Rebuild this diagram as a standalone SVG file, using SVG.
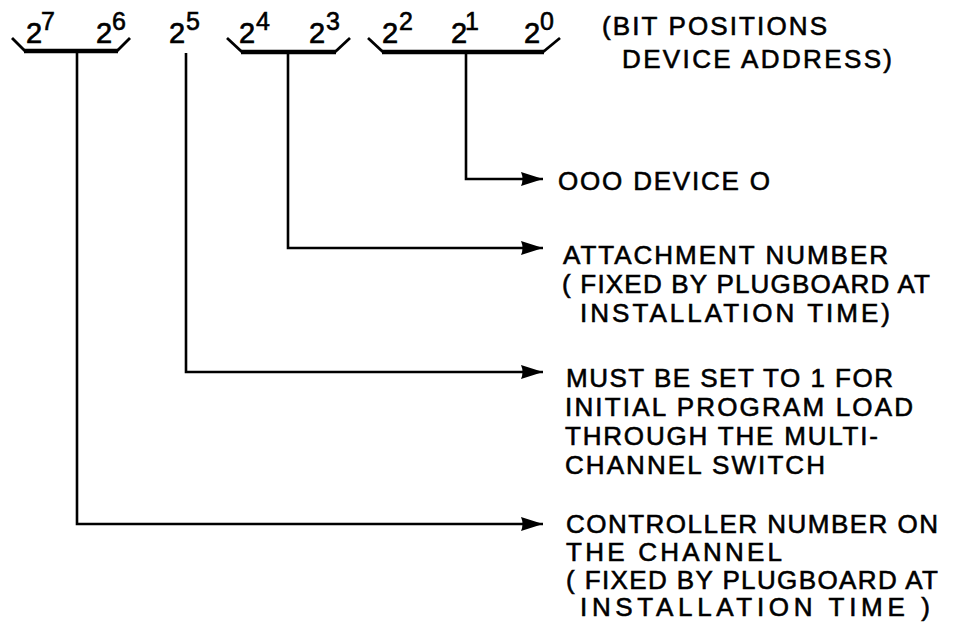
<svg xmlns="http://www.w3.org/2000/svg" width="954" height="625" viewBox="0 0 954 625">
<defs>
<marker id="ah" markerUnits="userSpaceOnUse" markerWidth="24" markerHeight="16" refX="22" refY="7" orient="auto">
<path d="M0,0 L22,7 L0,14 Q3,7 0,0 Z" fill="#000"/>
</marker>
</defs>
<style>
.t{font-family:"Liberation Sans",Arial,sans-serif;font-size:26px;fill:#000;stroke:#000;stroke-width:0.6}
.b{font-family:"Liberation Sans",Arial,sans-serif;font-size:29px;fill:#000;stroke:#000;stroke-width:0.7}
.s{font-family:"Liberation Sans",Arial,sans-serif;font-size:25px;fill:#000;stroke:#000;stroke-width:0.6}
.br{fill:none;stroke:#000;stroke-width:2.8;stroke-linejoin:round}
.bb{fill:none;stroke:#000;stroke-width:4.5}
.c{fill:none;stroke:#000;stroke-width:2.6}
</style>
<rect width="954" height="625" fill="#fff"/>
<g id="bits">
<text class="b" x="26" y="43">2</text><text class="s" x="41" y="30">7</text>
<text class="b" x="96" y="43">2</text><text class="s" x="112" y="30">6</text>
<text class="b" x="169" y="43">2</text><text class="s" x="186" y="30">5</text>
<text class="b" x="239" y="43">2</text><text class="s" x="256" y="30">4</text>
<text class="b" x="309" y="43">2</text><text class="s" x="326" y="30">3</text>
<text class="b" x="382" y="43">2</text><text class="s" x="399" y="30">2</text>
<text class="b" x="451" y="43">2</text><text class="s" x="465" y="30">1</text>
<text class="b" x="524" y="43">2</text><text class="s" x="540" y="30">0</text>
</g>
<g id="bracket-76">
<polyline class="br" points="12,38 25,51"/><polyline class="br" points="117,51 130,38"/>
<line class="bb" x1="24" y1="51" x2="118" y2="51"/>
</g>
<g id="bracket-43">
<polyline class="br" points="227,38 242,52"/><polyline class="br" points="335,52 350,38"/>
<line class="bb" x1="241" y1="52" x2="336" y2="52"/>
</g>
<g id="bracket-210">
<polyline class="br" points="368,38 383,52"/><polyline class="br" points="543,52 560,38"/>
<line class="bb" x1="382" y1="52" x2="544" y2="52"/>
</g>
<g id="title">
<text class="t" x="602" y="35" textLength="225" lengthAdjust="spacing">(BIT POSITIONS</text>
<text class="t" x="622" y="68" textLength="270" lengthAdjust="spacing">DEVICE ADDRESS)</text>
</g>
<g id="label-device">
<text class="t" x="558" y="190" textLength="212" lengthAdjust="spacing">OOO DEVICE O</text>
</g>
<g id="label-attachment">
<text class="t" x="563" y="264" textLength="325" lengthAdjust="spacing">ATTACHMENT NUMBER</text>
<text class="t" x="562" y="293" textLength="368" lengthAdjust="spacing">( FIXED BY PLUGBOARD AT</text>
<text class="t" x="580" y="322" textLength="310" lengthAdjust="spacing">INSTALLATION TIME)</text>
</g>
<g id="label-ipl">
<text class="t" x="566" y="387" textLength="327" lengthAdjust="spacing">MUST BE SET TO 1 FOR</text>
<text class="t" x="565" y="416" textLength="348" lengthAdjust="spacing">INITIAL PROGRAM LOAD</text>
<text class="t" x="565" y="445" textLength="313" lengthAdjust="spacing">THROUGH THE MULTI-</text>
<text class="t" x="565" y="474" textLength="260" lengthAdjust="spacing">CHANNEL SWITCH</text>
</g>
<g id="label-controller">
<text class="t" x="566" y="533" textLength="372" lengthAdjust="spacing">CONTROLLER NUMBER ON</text>
<text class="t" x="566" y="561" textLength="216" lengthAdjust="spacing">THE CHANNEL</text>
<text class="t" x="566" y="589" textLength="372" lengthAdjust="spacing">( FIXED BY PLUGBOARD AT</text>
<text class="t" x="580" y="616" textLength="350" lengthAdjust="spacing">INSTALLATION TIME )</text>
</g>
<g id="connectors">
<polyline class="c" points="466,52 466,179 543,179" marker-end="url(#ah)"/>
<polyline class="c" points="288,52 288,248 543,248" marker-end="url(#ah)"/>
<polyline class="c" points="186,53 186,372 543,372" marker-end="url(#ah)"/>
<polyline class="c" points="77,51 77,524 543,524" marker-end="url(#ah)"/>
</g>
</svg>
